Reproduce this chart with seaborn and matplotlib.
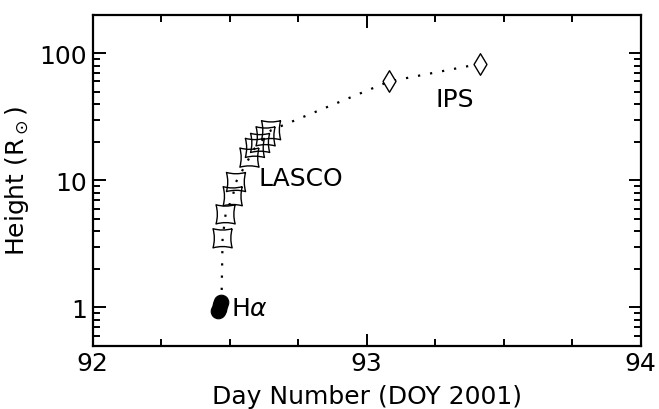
import numpy as np
import pandas as pd
import matplotlib
matplotlib.use("Agg")
import matplotlib.pyplot as plt
from matplotlib.path import Path
from matplotlib.ticker import FixedLocator, NullFormatter
import seaborn as sns

# Height-time measurements of the CME front (DOY 2001)
halpha_day = [92.457, 92.461, 92.466, 92.470]
halpha_height = [0.93, 0.98, 1.04, 1.10]

lasco_day = [92.474, 92.485, 92.511, 92.523, 92.572, 92.592, 92.611, 92.631, 92.651]
lasco_height = [3.5, 5.4, 7.5, 9.7, 15.1, 18.0, 19.7, 22.2, 24.8]

ips_day = [93.082, 93.413]
ips_height = [60.0, 82.5]

x_ticks = [92, 93, 94]
y_ticks = [1, 10, 100]
y_ticklabels = ["1", "10", "100"]

sns.set_theme(style="ticks")
plt.rcParams["font.family"] = ["DejaVu Sans"]
plt.rcParams["mathtext.fontset"] = "dejavusans"
plt.rcParams["text.color"] = "black"

fig = plt.figure(figsize=(6.59, 4.10), dpi=100)
ax = fig.add_axes([0.1407, 0.1544, 0.9722 - 0.1407, 0.961 - 0.1544])

track = pd.DataFrame({
    "day": halpha_day[-1:] + lasco_day + ips_day,
    "height": halpha_height[-1:] + lasco_height + ips_height,
})
sns.lineplot(data=track, x="day", y="height", sort=False, ax=ax,
             color="black", linewidth=1.6, linestyle=(0, (1, 4.5)))

# square with slightly concave sides and flared corners
k = 0.72
verts = [(1, 1), (0, k), (-1, 1), (-k, 0), (-1, -1), (0, -k), (1, -1), (k, 0), (1, 1)]
codes = [Path.MOVETO] + [Path.CURVE3] * 8
star_square = Path(verts, codes)

ha = pd.DataFrame({"day": halpha_day, "height": halpha_height})
la = pd.DataFrame({"day": lasco_day, "height": lasco_height})
ip = pd.DataFrame({"day": ips_day, "height": ips_height})

sns.scatterplot(data=ha, x="day", y="height", ax=ax, marker="o", s=110,
                color="black", edgecolor="black", linewidth=0.8, zorder=3)
sns.scatterplot(data=la, x="day", y="height", ax=ax, marker=star_square, s=190,
                facecolor="none", edgecolor="black", linewidth=1.0, zorder=3)
sns.scatterplot(data=ip, x="day", y="height", ax=ax, marker="d", s=120,
                facecolor="white", edgecolor="black", linewidth=1.0, zorder=3)

ax.set_yscale("log")
ax.set_xlim(92, 94)
ax.set_ylim(0.5, 200)

ax.xaxis.set_major_locator(FixedLocator(x_ticks))
ax.xaxis.set_minor_locator(FixedLocator(np.arange(92, 94.01, 0.25)))
ax.set_xticklabels([str(t) for t in x_ticks])
ax.yaxis.set_major_locator(FixedLocator(y_ticks))
minor_y = [m * 10.0 ** e for e in (-1, 0, 1, 2) for m in range(2, 10)]
ax.yaxis.set_minor_locator(FixedLocator([v for v in minor_y if 0.5 <= v <= 200]))
ax.yaxis.set_minor_formatter(NullFormatter())
ax.set_yticklabels(y_ticklabels)

ax.tick_params(which="both", direction="in", top=True, right=True,
               color="black", labelsize=18, labelcolor="black", pad=4)
ax.tick_params(which="major", length=9, width=1.4)
ax.tick_params(which="minor", length=5, width=1.4)
for s in ax.spines.values():
    s.set_linewidth(1.6)
    s.set_color("black")

ax.set_xlabel("Day Number (DOY 2001)", fontsize=18, color="black", labelpad=6)
ax.set_ylabel(r"Height (R$_\odot$)", fontsize=18, color="black", labelpad=6)

ax.text(92.505, 0.99, r"H$\alpha$", fontsize=18, color="black", ha="left", va="center")
ax.text(92.605, 10.5, "LASCO", fontsize=18, color="black", ha="left", va="center")
ax.text(93.25, 44, "IPS", fontsize=18, color="black", ha="left", va="center")

ax.set_facecolor("white")
fig.patch.set_facecolor("white")
fig.savefig("out.png", dpi=100, facecolor="white")
